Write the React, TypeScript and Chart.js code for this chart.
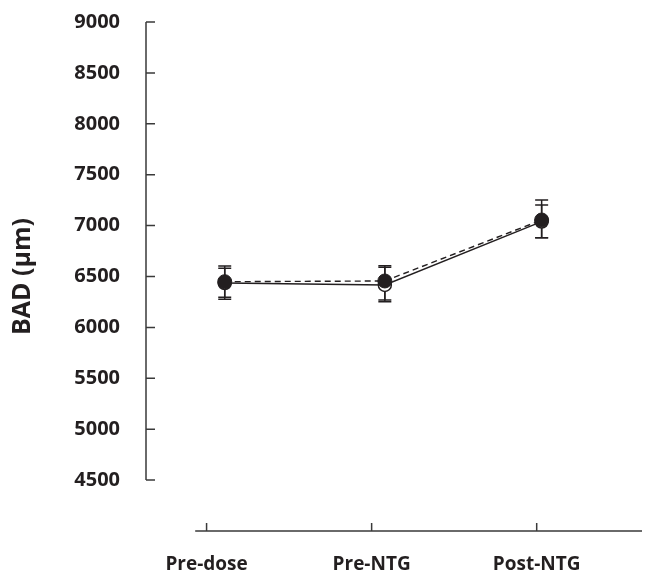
import React, { useEffect, useRef } from 'react';
import { Chart, registerables } from 'chart.js';

Chart.register(...registerables);

// ---- data ----
const categories = ['Pre-dose', 'Pre-NTG', 'Post-NTG'];
const categoryTicks = [0, 1, 2];
const pointX = [0.11, 1.08, 2.03];
const yTicks = [4500, 5000, 5500, 6000, 6500, 7000, 7500, 8000, 8500, 9000];

// filled circles, dashed line
const filledMeans = [6449, 6456, 7055];
const filledErrPlus = [154, 150, 148];
const filledErrMinus = [153, 187, 174];

// open circles, solid line
const openMeans = [6436, 6417, 7040];
const openErrPlus = [145, 173, 212];
const openErrMinus = [160, 164, 159];

const INK = '#231f20';
const AXIS = '#3a3a3a';
const FONT = '"Open Sans", Lato, "DejaVu Sans", sans-serif';

const errorSeries = [
  { means: openMeans, plus: openErrPlus, minus: openErrMinus },
  { means: filledMeans, plus: filledErrPlus, minus: filledErrMinus },
];

const customPlugin = {
  id: 'customAxesAndErrors',
  beforeDatasetsDraw(chart: any) {
    const { ctx, scales } = chart;
    const x = scales.x;
    const y = scales.y;
    ctx.save();
    // y axis line + inward ticks
    ctx.strokeStyle = AXIS;
    ctx.lineWidth = 1.5;
    const yAxisX = x.left;
    const yTop = y.getPixelForValue(yTicks[yTicks.length - 1]);
    const yBot = y.getPixelForValue(yTicks[0]);
    ctx.beginPath();
    ctx.moveTo(yAxisX, yTop);
    ctx.lineTo(yAxisX, yBot);
    yTicks.forEach((v) => {
      const py = y.getPixelForValue(v);
      ctx.moveTo(yAxisX, py);
      ctx.lineTo(yAxisX + 9, py);
    });
    ctx.stroke();
    // x axis line + upward ticks
    const xAxisY = y.bottom;
    ctx.beginPath();
    ctx.moveTo(x.getPixelForValue(-0.069), xAxisY);
    ctx.lineTo(x.right, xAxisY);
    categoryTicks.forEach((v) => {
      const px = x.getPixelForValue(v);
      ctx.moveTo(px, xAxisY);
      ctx.lineTo(px, xAxisY - 8);
    });
    ctx.stroke();

    // error bars
    ctx.strokeStyle = INK;
    ctx.lineWidth = 1.5;
    errorSeries.forEach((s) => {
      s.means.forEach((m, i) => {
        const px = x.getPixelForValue(pointX[i]);
        const pTop = y.getPixelForValue(m + s.plus[i]);
        const pBot = y.getPixelForValue(m - s.minus[i]);
        ctx.beginPath();
        ctx.moveTo(px, pTop);
        ctx.lineTo(px, pBot);
        ctx.moveTo(px - 6.5, pTop);
        ctx.lineTo(px + 6.5, pTop);
        ctx.moveTo(px - 6.5, pBot);
        ctx.lineTo(px + 6.5, pBot);
        ctx.stroke();
      });
    });
    ctx.restore();
  },
};

export default function App() {
  const canvasRef = useRef<HTMLCanvasElement | null>(null);

  useEffect(() => {
    if (!canvasRef.current) return;
    const chart = new Chart(canvasRef.current, {
      type: 'line',
      data: {
        datasets: [
          {
            label: 'Filled',
            data: filledMeans.map((v, i) => ({ x: pointX[i], y: v })),
            borderColor: INK,
            borderWidth: 1.4,
            borderDash: [6, 4],
            pointRadius: 7,
            pointBackgroundColor: INK,
            pointBorderColor: INK,
            pointBorderWidth: 1,
            tension: 0,
            order: 0,
          },
          {
            label: 'Open',
            data: openMeans.map((v, i) => ({ x: pointX[i], y: v })),
            borderColor: INK,
            borderWidth: 1.4,
            pointRadius: 6.5,
            pointBackgroundColor: '#ffffff',
            pointBorderColor: INK,
            pointBorderWidth: 1.5,
            tension: 0,
            order: 1,
          },
        ],
      },
      options: {
        responsive: false,
        animation: false,
        events: [],
        layout: { padding: { top: 22, left: 0, right: 0, bottom: 0 } },
        plugins: {
          legend: { display: false },
          tooltip: { enabled: false },
        },
        scales: {
          x: {
            type: 'linear',
            min: -0.367,
            max: 2.638,
            afterBuildTicks: (s: any) => {
              s.ticks = categoryTicks.map((v) => ({ value: v }));
            },
            afterFit: (s: any) => {
              s.height = 41;
              s.paddingTop = 0;
              s.paddingBottom = 0;
            },
            grid: { display: false, drawTicks: false, tickLength: 0 },
            border: { display: false },
            ticks: {
              autoSkip: false,
              maxRotation: 0,
              padding: 22,
              color: INK,
              font: { family: FONT, size: 19, weight: 'bold' },
              callback: (v: any) => {
                const idx = categoryTicks.indexOf(Number(v));
                return idx >= 0 ? categories[idx] : '';
              },
            },
          },
          y: {
            type: 'linear',
            min: 4000,
            max: 9000,
            afterBuildTicks: (s: any) => {
              s.ticks = yTicks.map((v) => ({ value: v }));
            },
            afterFit: (s: any) => {
              s.width = 146;
              s.paddingTop = 0;
              s.paddingBottom = 0;
            },
            grid: { display: false, drawTicks: false, tickLength: 0 },
            border: { display: false },
            ticks: {
              padding: 26,
              color: INK,
              font: { family: FONT, size: 20, weight: 'bold' },
              callback: (v: any) => String(v),
            },
            title: {
              display: true,
              text: 'BAD (μm)',
              color: INK,
              font: { family: FONT, size: 25, weight: 'bold' },
              padding: { top: 8, bottom: 0 },
            },
          },
        },
      },
      plugins: [customPlugin],
    } as any);
    return () => chart.destroy();
  }, []);

  return (
    <div style={{ position: 'fixed', left: 0, top: 0, width: 650, height: 572, background: '#fff' }}>
      <canvas ref={canvasRef} width={650} height={572} />
    </div>
  );
}
